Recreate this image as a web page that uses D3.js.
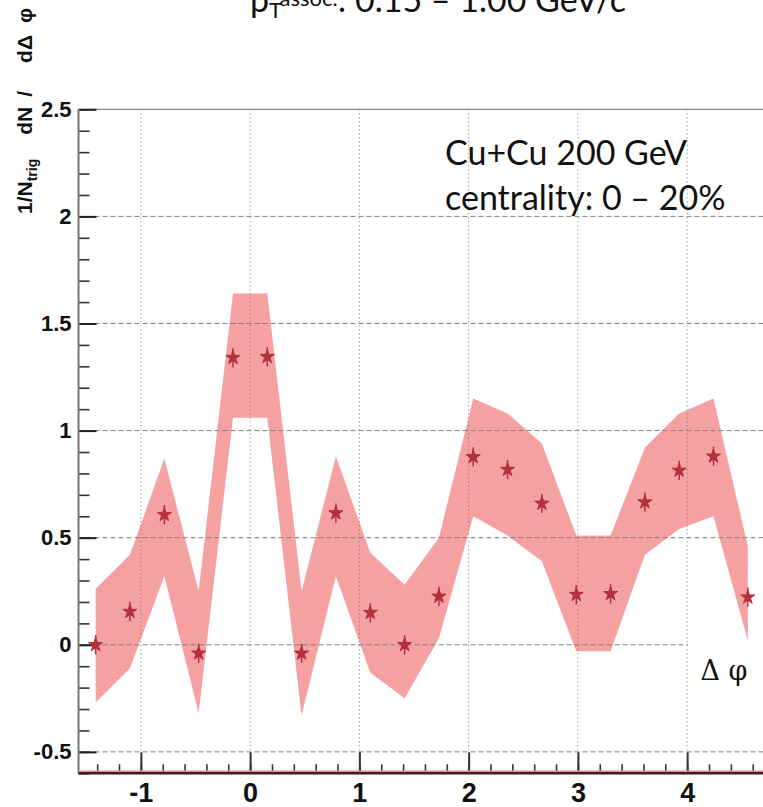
<!DOCTYPE html>
<html>
<head>
<meta charset="utf-8">
<script src="https://cdn.jsdelivr.net/npm/d3@7"></script>
<style>
  html, body { margin: 0; padding: 0; background: #fff; }
  svg { display: block; }
</style>
</head>
<body>
<script>
// Δφ bin centres (20 bins over [-π/2, 3π/2])
const dphi = [-1.414, -1.100, -0.785, -0.471, -0.157, 0.157, 0.471, 0.785, 1.100, 1.414,
              1.728, 2.042, 2.356, 2.670, 2.985, 3.299, 3.613, 3.927, 4.241, 4.555];
// per-trigger yield
const yieldVals = [0.00, 0.155, 0.607, -0.04, 1.34, 1.345, -0.04, 0.615, 0.15, 0.00,
                   0.226, 0.877, 0.818, 0.66, 0.234, 0.238, 0.666, 0.814, 0.88, 0.222];
// statistical errors
const statErr = [0.045, 0.045, 0.045, 0.045, 0.045, 0.045, 0.045, 0.045, 0.045, 0.045,
                 0.045, 0.045, 0.045, 0.045, 0.045, 0.045, 0.045, 0.045, 0.045, 0.045];
// systematic band limits
const sysLow  = [-0.27, -0.11, 0.32, -0.32, 1.06, 1.06, -0.33, 0.32, -0.13, -0.25,
                 0.03, 0.60, 0.51, 0.39, -0.03, -0.03, 0.42, 0.54, 0.60, 0.02];
const sysHigh = [0.26, 0.42, 0.87, 0.25, 1.64, 1.64, 0.25, 0.88, 0.43, 0.28,
                 0.50, 1.15, 1.08, 0.94, 0.51, 0.51, 0.92, 1.08, 1.15, 0.46];

const yMajor = [-0.5, 0, 0.5, 1, 1.5, 2, 2.5];
const yMajorLabels = ["-0.5", "0", "0.5", "1", "1.5", "2", "2.5"];
const yMinor = d3.range(-6, 26).map(k => k / 10);
const xMajor = [-1, 0, 1, 2, 3, 4];
const xMajorLabels = ["-1", "0", "1", "2", "3", "4"];
const xMinor = d3.range(-7, 24).map(k => k / 5);
const yGrid = [-0.5, 0, 0.5, 1, 1.5, 2];

const W = 763, H = 807;
const svg = d3.select("body").append("svg").attr("width", W).attr("height", H);

const x = d3.scaleLinear().domain([-Math.PI / 2, 3 * Math.PI / 2]).range([78.5, 765]);
const y = d3.scaleLinear().domain([-0.6, 2.5]).range([773.3, 109.3]);

// checkered pink fill for the systematic band
const defs = svg.append("defs");
const pat = defs.append("pattern").attr("id", "band")
  .attr("width", 3).attr("height", 3).attr("patternUnits", "userSpaceOnUse");
pat.append("rect").attr("width", 3).attr("height", 3).attr("fill", "#f8abab");
pat.append("rect").attr("width", 1.5).attr("height", 1.5).attr("fill", "#f39898");
pat.append("rect").attr("x", 1.5).attr("y", 1.5).attr("width", 1.5).attr("height", 1.5).attr("fill", "#f39898");

const rows = dphi.map((d, i) => ({ x: d, v: yieldVals[i], e: statErr[i], lo: sysLow[i], hi: sysHigh[i] }));

// band
svg.append("path")
  .datum(rows)
  .attr("fill", "url(#band)")
  .attr("d", d3.area().x(d => x(d.x)).y0(d => y(d.lo)).y1(d => y(d.hi)));

// grid
svg.append("g").selectAll("line").data(yGrid).join("line")
  .attr("x1", x.range()[0]).attr("x2", x.range()[1])
  .attr("y1", d => y(d)).attr("y2", d => y(d))
  .attr("stroke", "#808080").attr("stroke-width", 1).attr("stroke-dasharray", "5,3");
svg.append("g").selectAll("line").data(xMajor).join("line")
  .attr("x1", d => x(d)).attr("x2", d => x(d))
  .attr("y1", y.range()[1]).attr("y2", y.range()[0])
  .attr("stroke", "#707070").attr("stroke-width", 1).attr("stroke-dasharray", "1,3");

// frame
svg.append("line").attr("x1", x.range()[0]).attr("x2", x.range()[1])
  .attr("y1", y(2.5)).attr("y2", y(2.5)).attr("stroke", "#888").attr("stroke-width", 1.2);

// y axis
const yAxisG = svg.append("g").attr("transform", `translate(${x.range()[0]},0)`);
yAxisG.call(d3.axisLeft(y).tickValues(yMinor).tickSize(-11).tickFormat(""));
yAxisG.call(g => g.selectAll(".tick line").attr("stroke", "#333").attr("stroke-width", 1.6));
const yMajG = svg.append("g").attr("transform", `translate(${x.range()[0]},0)`);
yMajG.call(d3.axisLeft(y).tickValues(yMajor).tickSize(-18).tickPadding(7)
  .tickFormat((d, i) => yMajorLabels[i]));
yMajG.selectAll(".tick line").attr("stroke", "#222").attr("stroke-width", 2);
yMajG.selectAll(".tick text").attr("font-family", "Liberation Sans, Arial, sans-serif")
  .attr("font-weight", "bold").attr("font-size", 22).attr("fill", "#111");
svg.selectAll(".domain").remove();
svg.append("line").attr("x1", x.range()[0]).attr("x2", x.range()[0])
  .attr("y1", y.range()[1]).attr("y2", y.range()[0])
  .attr("stroke", "#777").attr("stroke-width", 2);

// x axis
const xAxisG = svg.append("g").attr("transform", `translate(0,${y.range()[0]})`);
xAxisG.call(d3.axisBottom(x).tickValues(xMinor).tickSize(-9).tickFormat(""));
xAxisG.selectAll(".tick line").attr("stroke", "#333").attr("stroke-width", 1.6);
const xMajG = svg.append("g").attr("transform", `translate(0,${y.range()[0]})`);
xMajG.call(d3.axisBottom(x).tickValues(xMajor).tickSize(-21).tickPadding(10)
  .tickFormat((d, i) => xMajorLabels[i]));
xMajG.selectAll(".tick line").attr("stroke", "#333").attr("stroke-width", 2);
xMajG.selectAll(".tick text").attr("font-family", "Liberation Sans Narrow, Liberation Sans, Arial, sans-serif")
  .attr("font-weight", "bold").attr("font-size", 27).attr("fill", "#111");
svg.selectAll(".domain").remove();
svg.append("line").attr("x1", x.range()[0]).attr("x2", W)
  .attr("y1", y.range()[0] - 2).attr("y2", y.range()[0] - 2)
  .attr("stroke", "#e88a95").attr("stroke-width", 1.5);
svg.append("line").attr("x1", x.range()[0]).attr("x2", W)
  .attr("y1", y.range()[0]).attr("y2", y.range()[0])
  .attr("stroke", "#3a1d22").attr("stroke-width", 2.5);

// error bars and star markers
const marks = svg.append("g");
marks.selectAll("line").data(rows).join("line")
  .attr("x1", d => x(d.x)).attr("x2", d => x(d.x))
  .attr("y1", d => y(d.v - d.e)).attr("y2", d => y(d.v + d.e))
  .attr("stroke", "#b5303e").attr("stroke-width", 1.5);
marks.selectAll("path").data(rows).join("path")
  .attr("transform", d => `translate(${x(d.x)},${y(d.v)})`)
  .attr("d", d3.symbol(d3.symbolStar, 62))
  .attr("fill", "#b5303e").attr("stroke", "#b5303e").attr("stroke-width", 1).attr("stroke-linejoin", "round");

// Δφ label on a white box
svg.append("rect").attr("x", 688).attr("y", 642).attr("width", 75).attr("height", 58).attr("fill", "#fff");
svg.append("text").attr("x", 724).attr("y", 680).attr("text-anchor", "middle")
  .attr("font-family", "DejaVu Serif, Liberation Serif, serif").attr("font-size", 27).attr("fill", "#111")
  .text("Δ φ");

// y title
const yt = svg.append("text")
  .attr("transform", "translate(32,214) rotate(-90)")
  .attr("font-family", "Liberation Sans, Arial, sans-serif").attr("font-weight", "bold")
  .attr("font-size", 21).attr("fill", "#111");
yt.append("tspan").text("1/N");
yt.append("tspan").attr("font-size", 14).attr("dy", 5).text("trig");
yt.append("tspan").attr("dy", -5).attr("dx", 24).text("dN");
yt.append("tspan").attr("dx", 10).text("/");
yt.append("tspan").attr("dx", 28).text("dΔ");
yt.append("tspan").attr("dx", 12).text("φ");

// header
const title = svg.append("text").attr("x", 250).attr("y", 12)
  .attr("font-family", "Lato, Open Sans, sans-serif").attr("font-size", 34).attr("fill", "#111");
title.append("tspan").text("p");
title.append("tspan").attr("font-size", 22).attr("dy", 6).text("T");
title.append("tspan").attr("font-size", 22).attr("dy", -12).text("assoc.");
title.append("tspan").attr("dy", 6).text(": 0.15 – 1.00 GeV/c");

// collision system annotation
const note = svg.append("g").attr("font-family", "Lato, Open Sans, sans-serif")
  .attr("font-size", 34).attr("fill", "#111");
note.append("text").attr("x", 445).attr("y", 165).text("Cu+Cu 200 GeV");
note.append("text").attr("x", 445).attr("y", 210).text("centrality: 0 – 20%");
</script>
</body>
</html>
